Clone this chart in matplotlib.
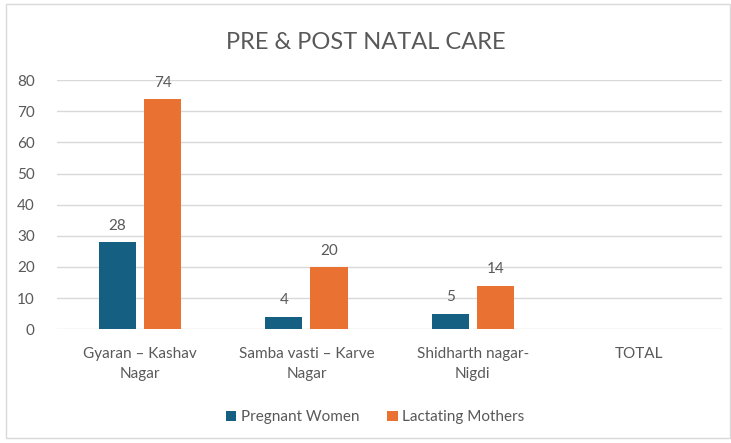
### Pre & post natal care - grouped bar chart ###
import numpy as np
import matplotlib.pyplot as plt
from matplotlib.patches import Rectangle

### Data ###
categories = ['Gyaran – Kashav\nNagar', 'Samba vasti – Karve\nNagar', 'Shidharth nagar-\nNigdi', 'TOTAL']
pregnant_women = [28, 4, 5, np.nan]
lactating_mothers = [74, 20, 14, np.nan]
series_names = ['Pregnant Women', 'Lactating Mothers']
colors = ['#156082', '#E97132']

plt.rcParams['font.family'] = ['Lato', 'DejaVu Sans']
text_col = '#595959'

fig = plt.figure(figsize=(7.31, 4.43), dpi=100)
ax = fig.add_axes([0.078, 0.257, 0.910, 0.562])

# light border round the whole chart
fig.patches.append(Rectangle((0.008, 0.012), 0.99, 0.98, transform=fig.transFigure,
                             fill=False, edgecolor='#d9d9d9', linewidth=1))

x = np.arange(len(categories))
w = 0.223
gap = 0.048
offsets = [-(w + gap) / 2, (w + gap) / 2]

for vals, name, col, off in zip([pregnant_women, lactating_mothers], series_names, colors, offsets):
    bars = ax.bar(x + off, vals, w, color=col, label=name, zorder=3)
    for xi, v in zip(x + off, vals):
        if not np.isnan(v):
            ax.text(xi, v + 3, f'{v:g}', ha='center', va='bottom', fontsize=11, color=text_col)

ax.set_xlim(-0.5, len(categories) - 0.5)
ax.set_ylim(0, 80)
ax.set_yticks(range(0, 81, 10))
ax.set_xticks(x)
ax.set_xticklabels(categories, fontsize=11, color=text_col, linespacing=1.5)
ax.tick_params(axis='y', labelsize=11, labelcolor=text_col, length=0, pad=16)
ax.tick_params(axis='x', length=0, pad=13)
ax.yaxis.grid(True, color='#d9d9d9', linewidth=1, zorder=0)
for s in ax.spines.values():
    s.set_visible(False)

fig.suptitle('PRE & POST NATAL CARE', y=0.927, fontsize=17, color=text_col)

fig.legend(loc='center', bbox_to_anchor=(0.513, 0.058), ncol=2, frameon=False,
           fontsize=11, labelcolor=text_col, handlelength=0.7, handleheight=0.7,
           handletextpad=0.3, columnspacing=1.8)

plt.savefig('out.png', dpi=100)
